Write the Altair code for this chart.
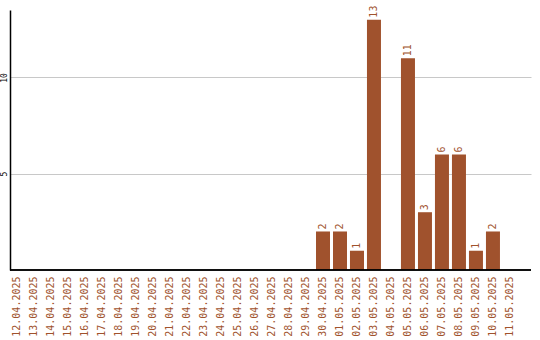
import altair as alt
import pandas as pd

dates = ["12.04.2025", "13.04.2025", "14.04.2025", "15.04.2025", "16.04.2025",
         "17.04.2025", "18.04.2025", "19.04.2025", "20.04.2025", "21.04.2025",
         "22.04.2025", "23.04.2025", "24.04.2025", "25.04.2025", "26.04.2025",
         "27.04.2025", "28.04.2025", "29.04.2025", "30.04.2025", "01.05.2025",
         "02.05.2025", "03.05.2025", "04.05.2025", "05.05.2025", "06.05.2025",
         "07.05.2025", "08.05.2025", "09.05.2025", "10.05.2025", "11.05.2025"]
counts = [0, 0, 0, 0, 0, 0, 0, 0, 0, 0, 0, 0, 0, 0, 0,
          0, 0, 0, 2, 2, 1, 13, 0, 11, 3, 6, 6, 1, 2, 0]
grid_values = [5, 10]

df = pd.DataFrame({"date": dates, "count": counts})
grid_df = pd.DataFrame({"v": grid_values})

BROWN = "#a0522d"
FONT = "DejaVu Sans Mono"
YSCALE = alt.Scale(domain=[0, 13.5], nice=False)

x = alt.X("date:N", sort=dates, title=None,
          scale=alt.Scale(paddingInner=0.176, paddingOuter=0.413, align=0),
          axis=alt.Axis(labelAngle=-90, labelColor=BROWN, labelFont=FONT, labelFontSize=10,
                        ticks=False, tickSize=0, labelPadding=6, domain=False, grid=False))
y = alt.Y("count:Q", title=None, scale=YSCALE,
          axis=alt.Axis(values=grid_values, labelAngle=270, labelAlign="center",
                        labelBaseline="bottom", labelFont=FONT, labelFontSize=8,
                        labelColor="black", ticks=False, tickSize=0, labelPadding=2,
                        domainColor="black", domainWidth=1.5, grid=True,
                        gridColor="#c8c8c8", gridWidth=1))

bars = alt.Chart(df).mark_bar(color=BROWN).encode(x=x, y=y)

labels = alt.Chart(df).transform_filter("datum.count > 0").mark_text(
    angle=270, align="left", baseline="middle", dx=2, color=BROWN, font=FONT, fontSize=10
).encode(x=alt.X("date:N", sort=dates), y=alt.Y("count:Q"), text="count:Q")

baseline = alt.Chart(grid_df).mark_rule(color="black", strokeWidth=1.5).encode(
    y=alt.value(260), x=alt.value(0), x2=alt.value(521))

chart = (bars + labels + baseline).properties(
    width=521, height=260,
    background="white",
    autosize=alt.AutoSizeParams(type="none"),
    padding={"left": 10, "top": 10, "right": 9, "bottom": 70},
).configure_view(stroke=None)

chart.save("out.html", embed_options={"renderer": "svg", "actions": False})
